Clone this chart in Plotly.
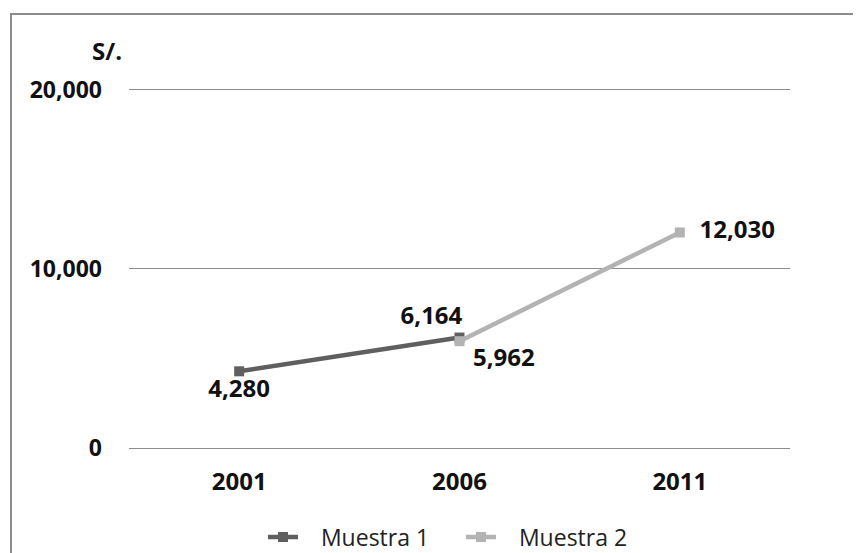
import plotly.graph_objects as go

categories = ["2001", "2006", "2011"]
m1_x = ["2001", "2006"]
m1_y = [4280, 6164]
m2_x = ["2006", "2011"]
m2_y = [5962, 12030]
y_ticks = [0, 10000, 20000]
y_tick_labels = ["0", "10,000", "20,000"]
y_max = 20150

FONT = "Open Sans"
OFF = 8  # page body margin
W, H = 861, 553
ML = 129 - OFF
MR = W + OFF - 790
MT = 79
MB = H + OFF - 448
PW, PH = W - ML - MR, H - MT - MB

def px_x(p):
    return (p - OFF - ML) / PW

def px_y(p):
    return (H - MB - (p - OFF)) / PH

NB = "\u00a0"

fig = go.Figure()
fig.add_trace(go.Scatter(
    x=m1_x, y=m1_y, name=NB * 3 + "Muestra 1", mode="lines+markers+text",
    line=dict(color="#5f5f5f", width=4.5),
    marker=dict(symbol="square", size=10, color="#5f5f5f"),
    text=[f"{m1_y[0]:,}", f"{m1_y[1]:,}" + NB * 9],
    textposition=["bottom center", "top center"],
    textfont=dict(family=FONT, size=24, color="#111111", weight="bold"),
    cliponaxis=False,
))
fig.add_trace(go.Scatter(
    x=m2_x, y=m2_y, name=NB * 3 + "Muestra 2", mode="lines+markers+text",
    line=dict(color="#b3b3b3", width=4.5),
    marker=dict(symbol="square", size=10, color="#b3b3b3"),
    text=[NB + f"{m2_y[0]:,}", NB * 2 + f"{m2_y[1]:,}"],
    textposition=["bottom right", "middle right"],
    textfont=dict(family=FONT, size=24, color="#111111", weight="bold"),
    cliponaxis=False,
))

fig.update_layout(
    width=W, height=H,
    margin=dict(l=ML, r=MR, t=MT, b=MB),
    paper_bgcolor="white", plot_bgcolor="white",
    font=dict(family=FONT, size=22, color="#111111"),
    showlegend=True,
    legend=dict(orientation="h", xref="container", yref="container",
                x=(461 - OFF) / W, xanchor="center",
                y=1 - (537 - OFF) / H, yanchor="middle",
                font=dict(family=FONT, size=23, color="#222222"),
                entrywidth=153, tracegroupgap=0),
    xaxis=dict(type="category", categoryorder="array", categoryarray=categories,
               range=[-0.5, 2.5], showgrid=False, showline=False, zeroline=False,
               ticks="", tickfont=dict(family=FONT, size=24, color="#111111", weight="bold"),
               ticklabelstandoff=17),
    yaxis=dict(range=[0, y_max], tickvals=y_ticks, ticktext=y_tick_labels,
               showgrid=True, gridcolor="#8c8c8c", gridwidth=1,
               zeroline=True, zerolinecolor="#8c8c8c", zerolinewidth=1,
               showline=False, ticks="",
               tickfont=dict(family=FONT, size=23, color="#111111", weight="bold"),
               ticklabelstandoff=26),
    annotations=[dict(text="<b>S/.</b>", x=px_x(107), y=px_y(50), xref="paper", yref="paper",
                      showarrow=False, font=dict(family=FONT, size=24, color="#111111"),
                      xanchor="center", yanchor="middle")],
    shapes=[dict(type="rect", xref="paper", yref="paper",
                 x0=px_x(11), x1=px_x(900), y0=px_y(620), y1=px_y(14),
                 line=dict(color="#8c8c8c", width=2), fillcolor="rgba(0,0,0,0)")],
)

fig.write_html("out.html")
